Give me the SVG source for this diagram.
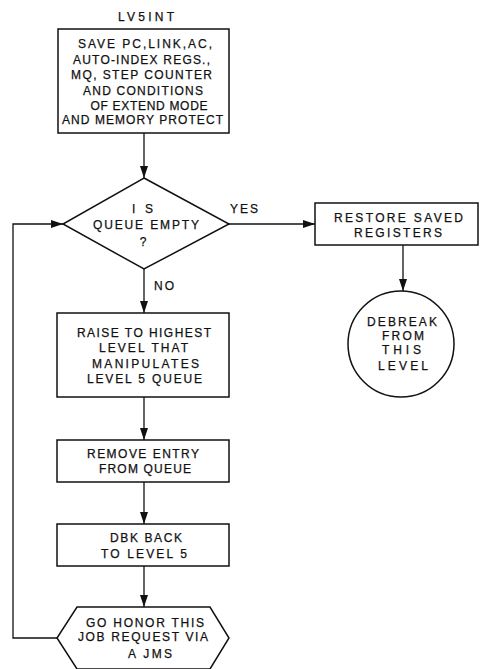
<svg xmlns="http://www.w3.org/2000/svg" width="481" height="669" viewBox="0 0 481 669">
<defs>
<marker id="ah" viewBox="0 0 12 8" refX="12" refY="4" markerWidth="12" markerHeight="8" markerUnits="userSpaceOnUse" orient="auto">
<path d="M0,0 L12,4 L0,8 Z" fill="#111"/>
</marker>
<style>
.shape{fill:#fff;stroke:#111;stroke-width:1.5}
.edge{fill:none;stroke:#111;stroke-width:1.3;marker-end:url(#ah)}
text{font-family:"Liberation Sans",Arial,sans-serif;font-size:12px;fill:#111;text-anchor:middle;stroke:#111;stroke-width:0.25}
</style>
</defs>
<rect width="481" height="669" fill="#fff"/>
<g id="label-lv5int"><text x="146" y="21" textLength="56" lengthAdjust="spacing">LV5INT</text></g>
<g id="save">
<rect class="shape" x="58" y="29" width="171" height="104"/>
<text x="145" y="47.5" textLength="134" lengthAdjust="spacing">SAVE PC,LINK,AC,</text>
<text x="141.5" y="63.5" textLength="137" lengthAdjust="spacing">AUTO-INDEX REGS.,</text>
<text x="141.5" y="78.5" textLength="141" lengthAdjust="spacing">MQ, STEP COUNTER</text>
<text x="143" y="94.5" textLength="120" lengthAdjust="spacing">AND CONDITIONS</text>
<text x="149" y="109.5" textLength="117" lengthAdjust="spacing">OF EXTEND MODE</text>
<text x="142.5" y="123.5" textLength="161" lengthAdjust="spacing">AND MEMORY PROTECT</text>
</g>
<g id="decision">
<polygon class="shape" points="144,178 229,224 144,269 63,224"/>
<text x="142.5" y="212.5" textLength="21" lengthAdjust="spacing">I S</text>
<text x="146" y="228.5" textLength="106" lengthAdjust="spacing">QUEUE EMPTY</text>
<text x="143" y="245.5">?</text>
</g>
<g id="restore">
<rect class="shape" x="315" y="203" width="163" height="42"/>
<text x="398.5" y="221.5" textLength="129" lengthAdjust="spacing">RESTORE SAVED</text>
<text x="398" y="236.5" textLength="88" lengthAdjust="spacing">REGISTERS</text>
</g>
<g id="debreak">
<circle class="shape" cx="401" cy="344" r="53"/>
<text x="402" y="325.5" textLength="70" lengthAdjust="spacing">DEBREAK</text>
<text x="403" y="339.5" textLength="42" lengthAdjust="spacing">FROM</text>
<text x="401.5" y="353.5" textLength="39" lengthAdjust="spacing">THIS</text>
<text x="403" y="369.5" textLength="50" lengthAdjust="spacing">LEVEL</text>
</g>
<g id="raise">
<rect class="shape" x="57" y="313" width="172" height="84"/>
<text x="144" y="336.5" textLength="134" lengthAdjust="spacing">RAISE TO HIGHEST</text>
<text x="143.5" y="351.5" textLength="89" lengthAdjust="spacing">LEVEL THAT</text>
<text x="145.5" y="367.5" textLength="107" lengthAdjust="spacing">MANIPULATES</text>
<text x="144.5" y="382.5" textLength="115" lengthAdjust="spacing">LEVEL 5 QUEUE</text>
</g>
<g id="remove">
<rect class="shape" x="57" y="440" width="172" height="42"/>
<text x="143" y="457.5" textLength="112" lengthAdjust="spacing">REMOVE ENTRY</text>
<text x="145" y="472.5" textLength="92" lengthAdjust="spacing">FROM QUEUE</text>
</g>
<g id="dbk">
<rect class="shape" x="57" y="524" width="172" height="42"/>
<text x="146" y="541.5" textLength="72" lengthAdjust="spacing">DBK BACK</text>
<text x="144" y="557.5" textLength="86" lengthAdjust="spacing">TO LEVEL 5</text>
</g>
<g id="honor">
<polygon class="shape" points="77,607 210,607 229,638 210,669 77,669 57,638"/>
<text x="145" y="626.5" textLength="118" lengthAdjust="spacing">GO HONOR THIS</text>
<text x="143" y="640.5" textLength="130" lengthAdjust="spacing">JOB REQUEST VIA</text>
<text x="150" y="657.5" textLength="44" lengthAdjust="spacing">A JMS</text>
</g>
<g id="connectors">
<path class="edge" d="M144,133 L144,178"/>
<path class="edge" d="M229,224 L315,224"/>
<path class="edge" d="M144,269 L144,313"/>
<path class="edge" d="M144,397 L144,440"/>
<path class="edge" d="M144,482 L144,524"/>
<path class="edge" d="M144,566 L144,607"/>
<path class="edge" d="M403,245 L403,291"/>
<path class="edge" d="M57,638 L13,638 L13,224 L63,224"/>
<text x="244" y="212.5" textLength="28" lengthAdjust="spacing">YES</text>
<text x="164" y="289.5" textLength="20" lengthAdjust="spacing">NO</text>
</g>
</svg>
